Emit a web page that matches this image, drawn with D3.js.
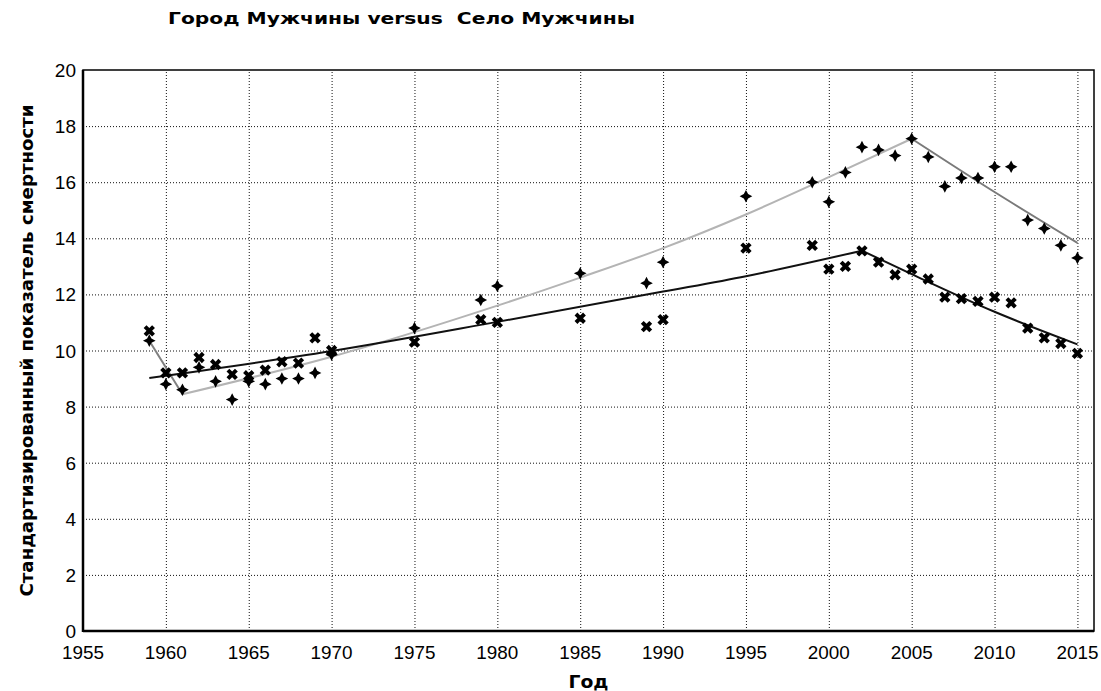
<!DOCTYPE html>
<html>
<head>
<meta charset="utf-8">
<script src="https://cdn.jsdelivr.net/npm/d3@7"></script>
<style>
  body { margin: 0; background: #fff; }
  svg { display: block; }
  .tick-label { font-family: "Liberation Sans", Arial, sans-serif; font-size: 19px; fill: #000; }
  .bold { font-family: "DejaVu Sans", Verdana, sans-serif; font-weight: bold; fill: #000; white-space: pre; }
</style>
</head>
<body>
<svg width="1101" height="691"></svg>
<script>
// points
const years = [1959, 1960, 1961, 1962, 1963, 1964, 1965, 1966, 1967, 1968, 1969, 1970,
  1975, 1979, 1980, 1985, 1989, 1990, 1995, 1999, 2000, 2001, 2002, 2003, 2004, 2005,
  2006, 2007, 2008, 2009, 2010, 2011, 2012, 2013, 2014, 2015];

// Город Мужчины (crosses)
const cityValues = [10.7, 9.2, 9.2, 9.75, 9.5, 9.15, 9.1, 9.3, 9.6, 9.55, 10.45, 10.0,
  10.3, 11.1, 11.0, 11.15, 10.85, 11.1, 13.65, 13.75, 12.9, 13.0, 13.55, 13.15, 12.7, 12.9,
  12.55, 11.9, 11.85, 11.75, 11.9, 11.7, 10.8, 10.45, 10.25, 9.9];

// Село Мужчины (diamonds)
const villageValues = [10.35, 8.8, 8.6, 9.4, 8.9, 8.25, 8.9, 8.8, 9.0, 9.0, 9.2, 9.85,
  10.8, 11.8, 12.3, 12.75, 12.4, 13.15, 15.5, 16.0, 15.3, 16.35, 17.25, 17.15, 16.95, 17.55,
  16.9, 15.85, 16.15, 16.15, 16.55, 16.55, 14.65, 14.35, 13.75, 13.3];

// fitted trend segments
const cityTrendYears = [[1959, 1970, 1980, 1990, 1995, 2002], [2002, 2005, 2010, 2015]];
const cityTrendValues = [[9.02, 9.98, 11.02, 12.1, 12.65, 13.56], [13.56, 12.72, 11.38, 10.22]];
const villageTrendYears = [[1959, 1961], [1961, 1970, 1980, 1985, 1990, 1995, 2000, 2005], [2005, 2010, 2015]];
const villageTrendValues = [[10.35, 8.44], [8.44, 9.78, 11.6, 12.6, 13.65, 14.85, 16.18, 17.55], [17.55, 15.65, 13.84]];

const xTicks = d3.range(1955, 2016, 5);
const yTicks = d3.range(0, 21, 2);

const svg = d3.select("svg");
const plotLeft = 83, plotRight = 1094, plotTop = 70, plotBottom = 631;

const x = d3.scaleLinear().domain([1955, 2016]).range([plotLeft, plotRight]);
const y = d3.scaleLinear().domain([0, 20]).range([plotBottom, plotTop]);

// grid
svg.append("g")
  .attr("transform", `translate(0,${plotBottom})`)
  .call(d3.axisBottom(x).tickValues(xTicks.slice(1)).tickSize(-(plotBottom - plotTop)).tickFormat(""))
  .call(g => g.select(".domain").remove())
  .selectAll("line").attr("stroke", "#111").attr("stroke-dasharray", "1,2");

svg.append("g")
  .attr("transform", `translate(${plotLeft},0)`)
  .call(d3.axisLeft(y).tickValues(yTicks.slice(1, -1)).tickSize(-(plotRight - plotLeft)).tickFormat(""))
  .call(g => g.select(".domain").remove())
  .selectAll("line").attr("stroke", "#111").attr("stroke-dasharray", "1,2");

// frame
svg.append("rect")
  .attr("x", plotLeft).attr("y", plotTop)
  .attr("width", plotRight - plotLeft).attr("height", plotBottom - plotTop)
  .attr("fill", "none").attr("stroke", "#000").attr("stroke-width", 1.5);
svg.append("line").attr("x1", plotLeft).attr("x2", plotLeft).attr("y1", plotTop).attr("y2", plotBottom + 1)
  .attr("stroke", "#000").attr("stroke-width", 2.5);
svg.append("line").attr("x1", plotLeft).attr("x2", plotRight).attr("y1", plotBottom).attr("y2", plotBottom)
  .attr("stroke", "#000").attr("stroke-width", 2.5);

// tick labels
svg.append("g").selectAll("text").data(xTicks).join("text")
  .attr("class", "tick-label")
  .attr("x", d => x(d)).attr("y", 659)
  .attr("text-anchor", "middle")
  .attr("textLength", 42).attr("lengthAdjust", "spacingAndGlyphs")
  .text(d => d);

svg.append("g").selectAll("text").data(yTicks).join("text")
  .attr("class", "tick-label")
  .attr("x", 76).attr("y", d => y(d) + 7)
  .attr("text-anchor", "end")
  .text(d => d);

// trend lines
const line = d3.line().x(d => x(d[0])).y(d => y(d[1])).curve(d3.curveMonotoneX);
const segs = (ys, vs) => ys.map((yy, i) => yy.map((v, j) => [v, vs[i][j]]));

const villageColors = ["#808080", "#b4b4b4", "#7a7a7a"];
svg.append("g").selectAll("path").data(segs(villageTrendYears, villageTrendValues)).join("path")
  .attr("d", line).attr("fill", "none")
  .attr("stroke", (d, i) => villageColors[i]).attr("stroke-width", 2);

svg.append("g").selectAll("path").data(segs(cityTrendYears, cityTrendValues)).join("path")
  .attr("d", line).attr("fill", "none")
  .attr("stroke", "#111").attr("stroke-width", 2);

// markers
const star4 = {
  draw(ctx, size) {
    const r = Math.sqrt(size) / 2, k = r * 0.34;
    ctx.moveTo(0, -r);
    ctx.lineTo(k, -k); ctx.lineTo(r, 0); ctx.lineTo(k, k);
    ctx.lineTo(0, r); ctx.lineTo(-k, k); ctx.lineTo(-r, 0); ctx.lineTo(-k, -k);
    ctx.closePath();
  }
};

svg.append("g").selectAll("path").data(years.map((yr, i) => [yr, villageValues[i]])).join("path")
  .attr("transform", d => `translate(${x(d[0])},${y(d[1])})`)
  .attr("d", d3.symbol().type(star4).size(160))
  .attr("fill", "#000");

svg.append("g").selectAll("path").data(years.map((yr, i) => [yr, cityValues[i]])).join("path")
  .attr("transform", d => `translate(${x(d[0])},${y(d[1])}) rotate(45)`)
  .attr("d", d3.symbol().type(d3.symbolCross).size(80))
  .attr("fill", "#000");

// titles
svg.append("text").attr("class", "bold")
  .attr("x", 168).attr("y", 24)
  .attr("font-size", 15)
  .attr("textLength", 467).attr("lengthAdjust", "spacingAndGlyphs")
  .text("Город Мужчины versus  Село Мужчины");

svg.append("text").attr("class", "bold")
  .attr("x", (plotLeft + plotRight) / 2).attr("y", 688)
  .attr("text-anchor", "middle").attr("font-size", 17)
  .attr("textLength", 40).attr("lengthAdjust", "spacingAndGlyphs")
  .text("Год");

svg.append("text").attr("class", "bold")
  .attr("transform", `translate(33,${(plotTop + plotBottom) / 2}) rotate(-90)`)
  .attr("text-anchor", "middle").attr("font-size", 18)
  .attr("textLength", 492).attr("lengthAdjust", "spacingAndGlyphs")
  .text("Стандартизированный показатель смертности");
</script>
</body>
</html>
